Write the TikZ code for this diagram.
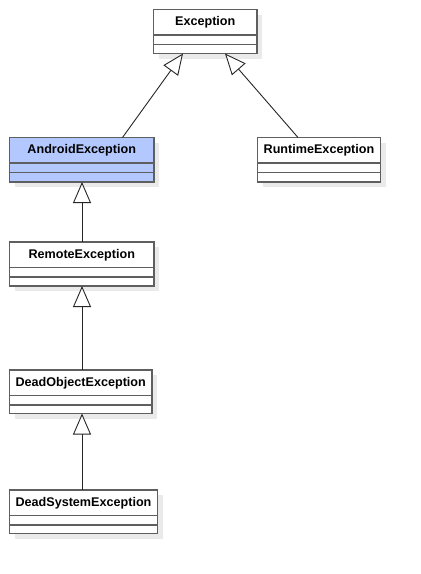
\documentclass[tikz,border=0pt]{standalone}
\usepackage{fontspec}
\setmainfont{Liberation Sans}
\usetikzlibrary{arrows.meta}
\definecolor{clsblue}{RGB}{179,200,255}
\definecolor{bordergray}{RGB}{95,95,95}
\definecolor{shadowgray}{RGB}{234,234,234}
\newcommand\umlclass[7]{%
  \fill[shadowgray] ({#2+5},{#3+5}) rectangle ({#4+5},{#5+5});
  \node[clsbox, fill=#7, minimum width={(#4-#2)*1pt}, minimum height={(#5-#3)*1pt}] (#1) at ({(#2+#4)/2},{(#3+#5)/2}) {};
  \draw[clsline] ([yshift=-25.5pt]#1.north west) -- ([yshift=-25.5pt]#1.north east);
  \draw[clsline] ([yshift=-35pt]#1.north west) -- ([yshift=-35pt]#1.north east);
  \node[clstitle] (#1t) at ([yshift=-13pt]#1.north) {#6};
}
\tikzset{
  clsbox/.style={draw=bordergray, line width=1.3pt, rectangle, inner sep=0pt, outer sep=0pt},
  clsline/.style={draw=bordergray, line width=1.3pt},
  clstitle/.style={font=\fontsize{12.6}{14}\selectfont\bfseries, inner sep=0pt},
  gen/.style={draw=black!85, line width=0.9pt, -{Triangle[fill=white, length=21pt, width=18pt, line width=0.9pt]}}
}
\begin{document}
\begin{tikzpicture}[x=1pt, y=-1pt]
\useasboundingbox (0,0) rectangle (421,574);
\fill[white] (0,0) rectangle (421,574);
\umlclass{exc}{153.5}{9.5}{257}{53.5}{Exception}{white}
\umlclass{andr}{9.5}{137.5}{154}{182}{AndroidException}{clsblue}
\umlclass{rt}{257.5}{137.5}{380.5}{182}{RuntimeException}{white}
\umlclass{rem}{9.5}{242}{154}{286}{RemoteException}{white}
\umlclass{dob}{9.5}{370}{152}{413.5}{DeadObjectException}{white}
\umlclass{dsy}{9.5}{490}{157.5}{533.5}{DeadSystemException}{white}
\draw[gen] ([xshift=113pt]andr.north west) -- ([xshift=29.5pt]exc.south west);
\draw[gen] ([xshift=40.5pt]rt.north west) -- ([xshift=71.5pt]exc.south west);
\draw[gen] ([xshift=72.5pt]rem.north west) -- ([xshift=72.5pt]andr.south west);
\draw[gen] ([xshift=72.5pt]dob.north west) -- ([xshift=72.5pt]rem.south west);
\draw[gen] ([xshift=72.5pt]dsy.north west) -- ([xshift=72.5pt]dob.south west);
\end{tikzpicture}
\end{document}
